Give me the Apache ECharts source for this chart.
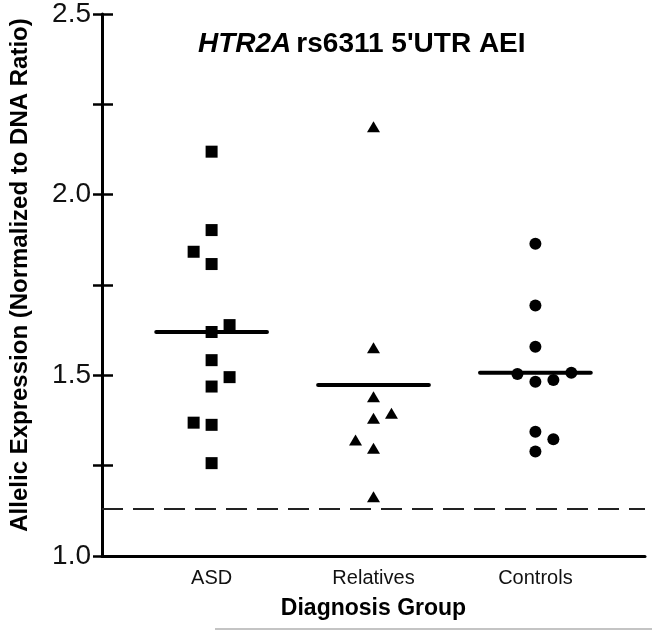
<!DOCTYPE html>
<html>
<head>
<meta charset="utf-8">
<script src="https://cdn.jsdelivr.net/npm/echarts@6/dist/echarts.min.js"></script>
<style>
html,body{margin:0;padding:0;background:#fff;}
#chart{width:652px;height:631px;}
</style>
</head>
<body>
<div id="chart"></div>
<script>
// ---- data ----
const groups = ['ASD', 'Relatives', 'Controls'];
const groupPositions = [1, 2, 3];
const asdValues = [2.119, 1.902, 1.842, 1.808, 1.639, 1.620, 1.542, 1.495, 1.469, 1.369, 1.363, 1.257];
const asdColumns = [0, 0, -1, 0, 1, 0, 0, 1, 0, -1, 0, 0];
const relativesValues = [2.188, 1.576, 1.441, 1.395, 1.381, 1.321, 1.298, 1.164];
const relativesColumns = [0, 0, 0, 1, 0, -1, 0, 0];
const controlsValues = [1.864, 1.693, 1.579, 1.504, 1.507, 1.482, 1.487, 1.344, 1.323, 1.289];
const controlsColumns = [0, 0, 0, -1, 2, 0, 1, 0, 1, 0];
const groupMeans = [1.620, 1.473, 1.507];
const thresholdValue = 1.13;
const yTickLabels = ['1.0', '1.5', '2.0', '2.5'];

// ---- layout helpers ----
const JITTER = 0.111;
const HALF_MEAN = 0.342;
function pts(vals, cols, g) { return vals.map((v, i) => [g + cols[i] * JITTER, v]); }
function meanLine(i) {
  return {
    type: 'line', data: [[groupPositions[i] - HALF_MEAN, groupMeans[i]], [groupPositions[i] + HALF_MEAN, groupMeans[i]]],
    symbol: 'none', lineStyle: { color: '#000', width: 4, cap: 'round', opacity: 1 }, z: 3, silent: true
  };
}

const chart = echarts.init(document.getElementById('chart'), null, { renderer: 'canvas' });
const font = 'Liberation Sans, Arial, sans-serif';
const yFmt = v => { const s = v.toFixed(1); return (Math.abs(v * 2 - Math.round(v * 2)) < 1e-6 && yTickLabels.includes(s)) ? s : ''; };
const markStyle = { color: '#000', opacity: 1 };

chart.setOption({
  animation: false,
  backgroundColor: '#fff',
  title: {
    text: '{i|HTR2A} {b|rs6311 5\'UTR AEI}',
    left: 198, top: 30, padding: 0,
    textStyle: {
      rich: {
        i: { fontFamily: font, fontSize: 28, fontWeight: 'bold', fontStyle: 'italic', color: '#000' },
        b: { fontFamily: font, fontSize: 28, fontWeight: 'bold', color: '#000' }
      }
    }
  },
  grid: { left: 100, right: 7, top: 14, bottom: 75, containLabel: false },
  xAxis: {
    type: 'value', min: 0.323, max: 3.677,
    axisLine: { show: true, lineStyle: { color: '#000', width: 3 } },
    axisTick: { show: false },
    splitLine: { show: false },
    axisLabel: {
      customValues: groupPositions,
      formatter: v => { const i = groupPositions.indexOf(Math.round(v)); return i >= 0 ? groups[i] : ''; },
      fontFamily: font, fontSize: 20, color: '#111', margin: 12
    },
    name: 'Diagnosis Group', nameLocation: 'middle', nameGap: 41,
    nameTextStyle: { fontFamily: font, fontSize: 23, fontWeight: 'bold', color: '#000' }
  },
  yAxis: [{
    type: 'value', min: 1.0, max: 2.5, interval: 0.25, position: 'left',
    axisLine: { show: true, lineStyle: { color: '#000', width: 3 } },
    axisTick: { show: true, inside: false, length: 9, lineStyle: { color: '#000', width: 2.5 } },
    splitLine: { show: false },
    axisLabel: { formatter: yFmt, fontFamily: font, fontSize: 28, color: '#111', margin: 11 },
    name: 'Allelic Expression (Normalized to DNA Ratio)', nameLocation: 'middle', nameGap: 70,
    nameTextStyle: { fontFamily: font, fontSize: 24, fontWeight: 'bold', color: '#000', padding: [0, 0, 0, 20] }
  }, {
    type: 'value', min: 1.0, max: 2.5, interval: 0.25, position: 'left', offset: 0,
    axisLine: { show: false },
    axisTick: { show: true, inside: true, length: 11, lineStyle: { color: '#000', width: 2.5 } },
    splitLine: { show: false },
    axisLabel: { show: false }
  }],
  series: [
    {
      type: 'scatter', name: groups[0], data: pts(asdValues, asdColumns, groupPositions[0]),
      symbol: 'rect', symbolSize: 12, itemStyle: markStyle, z: 4,
      markLine: {
        silent: true, symbol: ['none', 'none'], label: { show: false },
        lineStyle: { color: '#222', width: 2, type: [21, 10], opacity: 1 },
        data: [{ yAxis: thresholdValue }]
      }
    },
    {
      type: 'scatter', name: groups[1], data: pts(relativesValues, relativesColumns, groupPositions[1]),
      symbol: 'triangle', symbolSize: [13, 11], itemStyle: markStyle, z: 4
    },
    {
      type: 'scatter', name: groups[2], data: pts(controlsValues, controlsColumns, groupPositions[2]),
      symbol: 'circle', symbolSize: 12, itemStyle: markStyle, z: 4
    },
    meanLine(0), meanLine(1), meanLine(2)
  ],
  graphic: [{
    type: 'line', shape: { x1: 215, y1: 629, x2: 652, y2: 629 },
    style: { stroke: '#c4c4c4', lineWidth: 2 }, silent: true
  }]
});
</script>
</body>
</html>
